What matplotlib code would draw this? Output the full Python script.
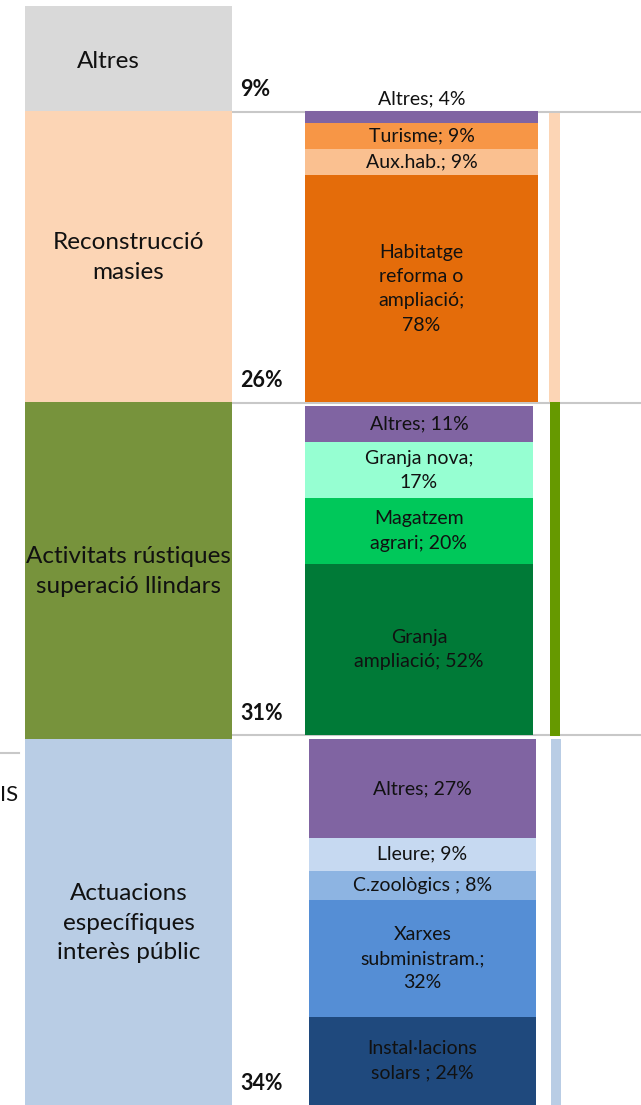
import matplotlib
matplotlib.use("Agg")
import matplotlib.pyplot as plt
import numpy as np

plt.rcParams['font.family'] = ['Lato', 'DejaVu Sans']

# ---- data ----
main_names = ["Altres", "Reconstrucció\nmasies", "Activitats rústiques\nsuperació llindars",
              "Actuacions\nespecífiques\ninterès públic"]
main_values = [9.55, 26.5, 30.65, 33.3]          # share of total (%)
main_labels = ["9%", "26%", "31%", "34%"]
main_colors = ["#D9D9D9", "#FCD5B5", "#77933C", "#B9CDE5"]

masies_names = ["Altres", "Turisme", "Aux.hab.", "Habitatge\nreforma o\nampliació;\n"]
masies_values = [4, 9, 9, 78]
masies_colors = ["#8064A2", "#F79646", "#FAC090", "#E46C0A"]

rustic_names = ["Altres", "Granja nova;\n", "Magatzem\nagrari", "Granja\nampliació"]
rustic_values = [11, 17, 20, 52]
rustic_colors = ["#8064A2", "#96FFD2", "#00C85A", "#007A37"]

public_names = ["Altres", "Lleure", "C.zoològics ", "Xarxes\nsubministram.;\n", "Instal·lacions\nsolars "]
public_values = [27, 9, 8, 32, 24]
public_colors = ["#8064A2", "#C6D9F1", "#8DB4E2", "#558ED5", "#1F497D"]

thin_colors = ["#FCD5B5", "#669900", "#B9CDE5"]

# ---- layout (pixel-like x units) ----
W, H = 641, 1105
fig = plt.figure(figsize=(W / 100, H / 100), dpi=100)
ax = fig.add_axes([0, 0, 1, 1])
top_px = 6
scale = (H - top_px) / 100.0
ax.set_xlim(0, W)
ax.set_ylim(100, -top_px / scale)
ax.axis("off")

main_x0, main_x1 = 25, 232
bounds = np.concatenate([[0], np.cumsum(main_values)])
line_off = [0.05, 0.05, -0.35]   # separator line offsets (units) for bounds[1..3]
line_y = [bounds[k + 1] + line_off[k] for k in range(3)]

# main column
for i, (v, c) in enumerate(zip(main_values, main_colors)):
    ax.bar(main_x0, v, bottom=bounds[i], width=main_x1 - main_x0, align="edge",
           color=c, edgecolor="none", zorder=2)
    yc = bounds[i] + v / 2 + (0.25 if i == 0 else 0.1)
    xc = 108 if i == 0 else (main_x0 + main_x1) / 2
    ax.text(xc, yc, main_names[i], ha="center", va="center", fontsize=17.5,
            linespacing=1.5, color="#111111", zorder=4)
    ly = (line_y[i] if i < 3 else bounds[4]) - 2.0
    ax.text(240, ly, main_labels[i], ha="left", va="center",
            fontsize=15.5, fontweight="bold", color="#111111", zorder=4)

# separator lines
for y in line_y:
    ax.plot([main_x1, W], [y, y], color="#C8C8C8", lw=1.5, zorder=1)
ax.plot([0, 19], [67.95, 67.95], color="#C8C8C8", lw=1.5, zorder=1)
ax.text(0, 71.8, "IS", ha="left", va="center", fontsize=16, color="#111111")

# sub columns
groups = [
    (masies_names, masies_values, masies_colors, 305, 538, 1),
    (rustic_names, rustic_values, rustic_colors, 305, 533, 2),
    (public_names, public_values, public_colors, 309, 536, 3),
]
thin_x = [(549, 560), (550, 560), (551, 561)]
for gi, (names, vals, cols, x0, x1, sec) in enumerate(groups):
    s0, s1 = bounds[sec], bounds[sec + 1]
    pad_top = 0.36 if sec == 2 else 0.0
    pad_bot = 0.36 if sec == 2 else 0.0
    span = (s1 - pad_bot) - (s0 + pad_top)
    vals = np.array(vals, dtype=float)
    heights = vals / vals.sum() * span
    starts = s0 + pad_top + np.concatenate([[0], np.cumsum(heights)[:-1]])
    ax.bar(x0, heights, bottom=starts, width=x1 - x0, align="edge",
           color=cols, edgecolor="none", zorder=3)
    for j, (nm, v) in enumerate(zip(names, vals)):
        if nm.endswith("\n"):
            lab = f"{nm}{int(v)}%"
        else:
            lab = f"{nm}; {int(v)}%"
        yc = starts[j] + heights[j] / 2
        if sec == 1 and j == 0:
            yc = starts[j] - 1.1
        ax.text((x0 + x1) / 2, yc, lab, ha="center", va="center", fontsize=14,
                linespacing=1.52, color="#111111", zorder=4)
    tx0, tx1 = thin_x[gi]
    t_top = s0 + (0.15 if sec == 1 else 0.0)
    t_bot = s1 - (0.3 if sec == 2 else 0.0)
    ax.bar(tx0, t_bot - t_top, bottom=t_top, width=tx1 - tx0, align="edge",
           color=thin_colors[gi], edgecolor="none", zorder=3)

fig.savefig("out.png", dpi=100)
